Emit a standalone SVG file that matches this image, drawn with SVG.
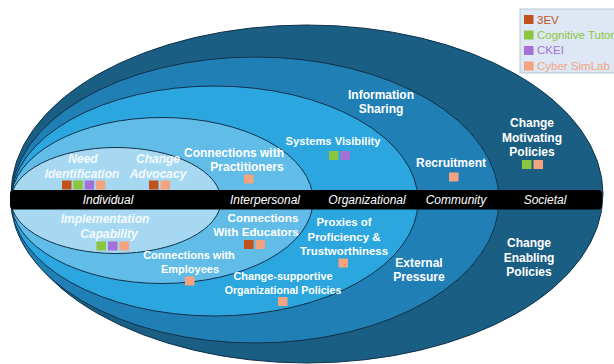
<svg xmlns="http://www.w3.org/2000/svg" width="614" height="364" viewBox="0 0 614 364">
  <style>
    .ring { stroke: #10314a; stroke-width: 1; }
    .lbl { font-family: "Liberation Sans", Arial, sans-serif; font-weight: bold; font-size: 12px; fill: #ffffff; text-anchor: middle; }
    .sm { font-size: 11px; }
    .ital { font-family: "Liberation Sans", Arial, sans-serif; font-weight: bold; font-style: italic; font-size: 12px; fill: #f4fafd; text-anchor: middle; }
    .lvl { font-family: "Liberation Sans", Arial, sans-serif; font-style: italic; font-size: 12px; fill: #ffffff; text-anchor: middle; }
    .leg { font-family: "Liberation Sans", Arial, sans-serif; font-size: 11.5px; }
    .c3ev { fill: #c2521c; }
    .ccog { fill: #8cc63e; }
    .cckei { fill: #a571d8; }
    .ccyb { fill: #f4a37e; }
  </style>
  <defs>
    <rect id="sq" width="9.5" height="9"/>
  </defs>

  <!-- nested levels, outermost first -->
  <g id="societal">
    <ellipse class="ring" cx="307" cy="194" rx="296" ry="169" fill="#1b5e83"/>
  </g>
  <g id="community">
    <ellipse class="ring" cx="255" cy="200" rx="244" ry="143" fill="#2080b5"/>
  </g>
  <g id="organizational">
    <ellipse class="ring" cx="214.5" cy="201" rx="203.5" ry="115" fill="#2ca6de"/>
  </g>
  <g id="interpersonal">
    <ellipse class="ring" cx="162" cy="200.5" rx="151" ry="83" fill="#61bde7"/>
  </g>
  <g id="individual">
    <ellipse class="ring" cx="116" cy="200.5" rx="105" ry="53" fill="#a6d9f1"/>
  </g>

  <!-- level bar -->
  <g id="level-bar">
    <rect x="10" y="190" width="592" height="19.5" rx="4" fill="#000000"/>
    <text class="lvl" x="108" y="203.5">Individual</text>
    <text class="lvl" x="265" y="203.5">Interpersonal</text>
    <text class="lvl" x="367" y="203.5">Organizational</text>
    <text class="lvl" x="456" y="203.5">Community</text>
    <text class="lvl" x="545" y="203.5">Societal</text>
  </g>

  <!-- individual level factors -->
  <g id="need-identification">
    <text class="ital" x="83" y="163">Need</text>
    <text class="ital" x="82" y="177.5">Identification</text>
    <use href="#sq" x="62" y="180.5" class="c3ev"/>
    <use href="#sq" x="73.3" y="180.5" class="ccog"/>
    <use href="#sq" x="84.6" y="180.5" class="cckei"/>
    <use href="#sq" x="95.9" y="180.5" class="ccyb"/>
  </g>
  <g id="change-advocacy">
    <text class="ital" x="158" y="163">Change</text>
    <text class="ital" x="158" y="177.5">Advocacy</text>
    <use href="#sq" x="149" y="180.5" class="c3ev"/>
    <use href="#sq" x="160.5" y="180.5" class="ccyb"/>
  </g>
  <g id="implementation-capability">
    <text class="ital" x="105" y="223">Implementation</text>
    <text class="ital" x="109" y="237.5">Capability</text>
    <use href="#sq" x="96.5" y="241.5" class="ccog"/>
    <use href="#sq" x="108" y="241.5" class="cckei"/>
    <use href="#sq" x="119.5" y="241.5" class="ccyb"/>
  </g>

  <!-- interpersonal level factors -->
  <g id="connections-practitioners">
    <text class="lbl" x="234" y="157">Connections with</text>
    <text class="lbl" x="247" y="171">Practitioners</text>
    <use href="#sq" x="244" y="174.5" class="ccyb"/>
  </g>
  <g id="connections-educators">
    <text class="lbl" x="263" y="222" style="font-size:11.7px">Connections</text>
    <text class="lbl" x="256" y="236" style="font-size:11.7px">With Educators</text>
    <use href="#sq" x="244" y="240" class="c3ev"/>
    <use href="#sq" x="255.5" y="240" class="ccyb"/>
  </g>
  <g id="connections-employees">
    <text class="lbl sm" x="189" y="259">Connections with</text>
    <text class="lbl sm" x="190" y="273">Employees</text>
    <use href="#sq" x="185" y="276.5" class="ccyb"/>
  </g>

  <!-- organizational level factors -->
  <g id="systems-visibility">
    <text class="lbl" x="333" y="145" style="font-size:11.2px">Systems Visibility</text>
    <use href="#sq" x="329" y="151" class="ccog"/>
    <use href="#sq" x="340.5" y="151" class="cckei"/>
  </g>
  <g id="proxies">
    <text class="lbl" x="344" y="226" style="font-size:11.4px">Proxies of</text>
    <text class="lbl" x="344" y="240.5" style="font-size:11.4px">Proficiency &amp;</text>
    <text class="lbl" x="344" y="255" style="font-size:11.4px">Trustworthiness</text>
    <use href="#sq" x="338.5" y="258.5" class="ccyb"/>
  </g>
  <g id="change-supportive-policies">
    <text class="lbl" x="283" y="280" style="font-size:10.9px">Change-supportive</text>
    <text class="lbl" x="283" y="293.5" style="font-size:10.6px">Organizational Policies</text>
    <use href="#sq" x="278" y="297" class="ccyb"/>
  </g>

  <!-- community level factors -->
  <g id="information-sharing">
    <text class="lbl" x="381" y="99">Information</text>
    <text class="lbl" x="381" y="113">Sharing</text>
  </g>
  <g id="recruitment">
    <text class="lbl" x="451" y="167">Recruitment</text>
    <use href="#sq" x="449" y="172.5" class="ccyb"/>
  </g>
  <g id="external-pressure">
    <text class="lbl" x="419" y="267">External</text>
    <text class="lbl" x="419" y="281">Pressure</text>
  </g>

  <!-- societal level factors -->
  <g id="change-motivating-policies">
    <text class="lbl" x="532" y="127">Change</text>
    <text class="lbl" x="532" y="141.5">Motivating</text>
    <text class="lbl" x="532" y="155.5">Policies</text>
    <use href="#sq" x="522" y="160" class="ccog"/>
    <use href="#sq" x="533.5" y="160" class="ccyb"/>
  </g>
  <g id="change-enabling-policies">
    <text class="lbl" x="529" y="247">Change</text>
    <text class="lbl" x="529" y="261.5">Enabling</text>
    <text class="lbl" x="529" y="275.5">Policies</text>
  </g>

  <!-- legend -->
  <g id="legend">
    <rect x="520" y="9" width="100" height="64" fill="#dde8f4" stroke="#b9c5d2" stroke-width="1"/>
    <use href="#sq" x="524" y="15" class="c3ev"/>
    <text class="leg c3ev" x="537" y="23.5">3EV</text>
    <use href="#sq" x="524" y="30.5" class="ccog"/>
    <text class="leg ccog" x="537" y="39">Cognitive Tutor</text>
    <use href="#sq" x="524" y="46" class="cckei"/>
    <text class="leg cckei" x="537" y="54">CKEI</text>
    <use href="#sq" x="524" y="61.5" class="ccyb"/>
    <text class="leg ccyb" x="537" y="69.5">Cyber SimLab</text>
  </g>
</svg>
